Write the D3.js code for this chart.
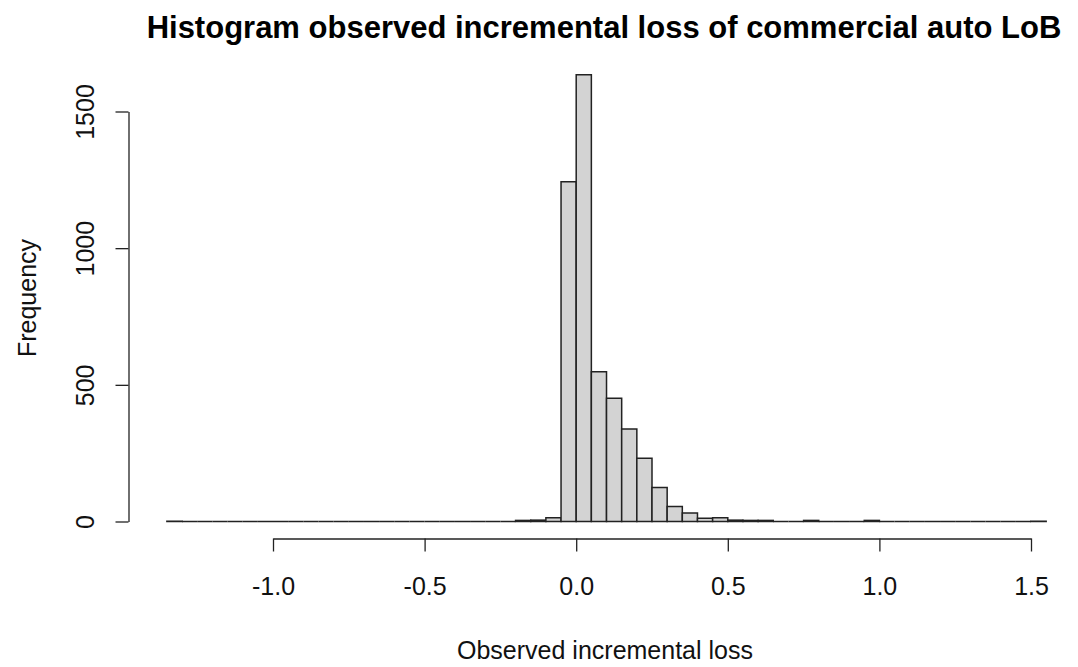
<!DOCTYPE html>
<html>
<head>
<meta charset="utf-8">
<script src="https://cdn.jsdelivr.net/npm/d3@7"></script>
<style>
  body { margin: 0; background: #fff; }
  svg { display: block; font-family: "Liberation Sans", Arial, sans-serif; }
</style>
</head>
<body>
<div id="chart"></div>
<script>
// Histogram bins: lower break, width 0.05
const binStart = -1.35;
const binWidth = 0.05;
// counts per bin, from -1.35 up to 1.55
const counts = [
  1, 0, 0, 0, 0, 0, 0, 0, 0, 0,       // -1.35 .. -0.90
  0, 0, 0, 0, 0, 0, 0, 0, 0, 0,       // -0.85 .. -0.40
  0, 0, 0, 4, 5, 14, 1243, 1634, 548, 451, // -0.35 .. 0.10
  338, 231, 124, 55, 31, 12, 14, 5, 4, 4,  // 0.15 .. 0.60
  0, 0, 4, 0, 0, 0, 4, 0, 0, 0,       // 0.65 .. 1.10
  0, 0, 0, 0, 0, 0, 0, 1              // 1.15 .. 1.50
];
const xTicks = [-1.0, -0.5, 0.0, 0.5, 1.0, 1.5];
const yTicks = [0, 500, 1000, 1500];

const width = 1078, height = 667;

const svg = d3.select("#chart").append("svg")
  .attr("width", width)
  .attr("height", height);

const x = d3.scaleLinear().domain([-1, 1.5]).range([273, 1031]);
const y = d3.scaleLinear().domain([0, 1500]).range([521.5, 111.5]);

const bins = counts.map((c, i) => ({
  x0: binStart + i * binWidth,
  x1: binStart + (i + 1) * binWidth,
  count: c
}));

// bars as closed paths so empty bins still leave their baseline edge
svg.append("g")
  .selectAll("path")
  .data(bins)
  .enter()
  .append("path")
  .attr("d", d => {
    const p = d3.path();
    p.moveTo(x(d.x0), y(0));
    p.lineTo(x(d.x0), y(d.count));
    p.lineTo(x(d.x1), y(d.count));
    p.lineTo(x(d.x1), y(0));
    p.closePath();
    return p.toString();
  })
  .attr("fill", "#d3d3d3")
  .attr("stroke", "#222")
  .attr("stroke-width", 1.5);

// x axis
const xAxis = svg.append("g")
  .attr("transform", "translate(0,538.5)")
  .call(d3.axisBottom(x).tickValues(xTicks).tickSize(13).tickPadding(26).tickSizeOuter(0));
xAxis.select(".domain").attr("stroke", "#222").attr("stroke-width", 1.3);
xAxis.selectAll(".tick line").attr("stroke", "#222").attr("stroke-width", 1.3);
xAxis.selectAll("text")
  .attr("font-size", 25)
  .attr("font-family", "Liberation Sans, Arial, sans-serif")
  .attr("fill", "#111")
  .text(d => d3.format(".1f")(d).replace("\u2212", "-"));

// y axis
const yAxis = svg.append("g")
  .attr("transform", "translate(128.5,0)")
  .call(d3.axisLeft(y).tickValues(yTicks).tickFormat(d3.format("d")).tickSize(13).tickSizeOuter(0));
yAxis.select(".domain").attr("stroke", "#222").attr("stroke-width", 1.3);
yAxis.selectAll(".tick line").attr("stroke", "#222").attr("stroke-width", 1.3);
yAxis.selectAll("text")
  .attr("x", null)
  .attr("dy", null)
  .attr("font-size", 25)
  .attr("font-family", "Liberation Sans, Arial, sans-serif")
  .attr("fill", "#111")
  .attr("text-anchor", "middle")
  .attr("transform", "translate(-35,0) rotate(-90)");

// title
svg.append("text")
  .attr("x", 604)
  .attr("y", 38)
  .attr("text-anchor", "middle")
  .attr("font-size", 31)
  .attr("font-weight", "bold")
  .attr("fill", "#000")
  .text("Histogram observed incremental loss of commercial auto LoB");

// x label
svg.append("text")
  .attr("x", 605)
  .attr("y", 659)
  .attr("text-anchor", "middle")
  .attr("font-size", 25)
  .attr("fill", "#111")
  .text("Observed incremental loss");

// y label
svg.append("text")
  .attr("transform", "translate(36,298) rotate(-90)")
  .attr("text-anchor", "middle")
  .attr("font-size", 25)
  .attr("fill", "#111")
  .text("Frequency");
</script>
</body>
</html>
